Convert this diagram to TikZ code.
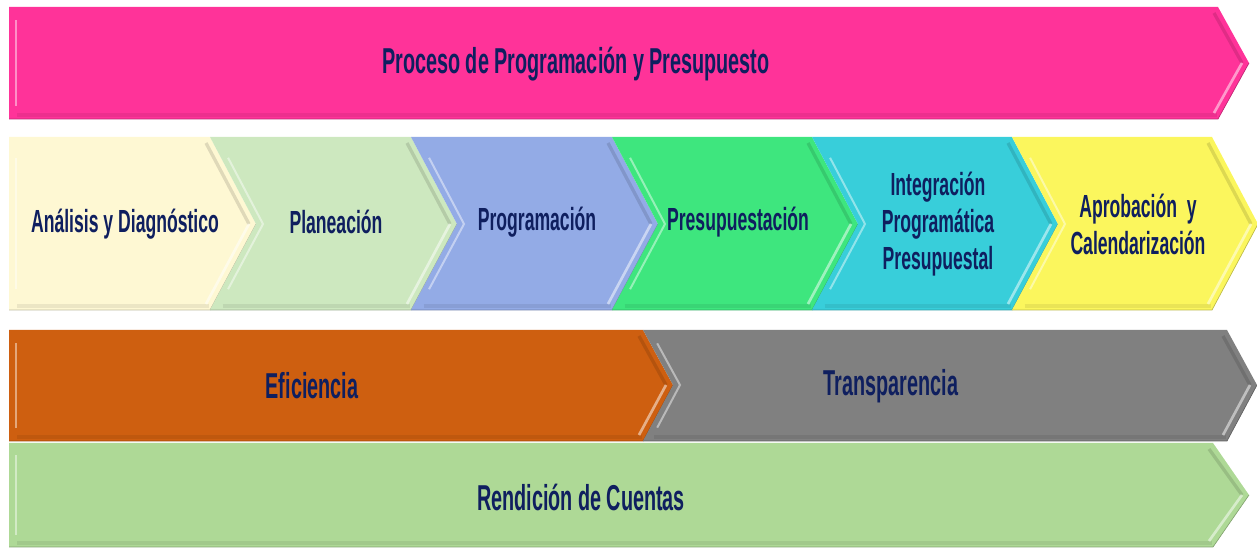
\documentclass[tikz,border=0pt]{standalone}
\usepackage{fontspec}
\setmainfont{Liberation Sans}[FakeStretch=0.55]
\usetikzlibrary{positioning}
\definecolor{titlepink}{HTML}{FF3399}
\definecolor{stepcream}{HTML}{FEF8D3}
\definecolor{steplime}{HTML}{CDE8BF}
\definecolor{stepblue}{HTML}{93ABE6}
\definecolor{stepgreen}{HTML}{3EE67E}
\definecolor{stepcyan}{HTML}{38CEDA}
\definecolor{stepyellow}{HTML}{FBF65D}
\definecolor{effOrange}{HTML}{CE5F10}
\definecolor{transGray}{HTML}{808080}
\definecolor{acctGreen}{HTML}{AED996}
\definecolor{labelnavy}{HTML}{0F1F5F}

% band: colour, x0, x1, top, mid, bottom, tip depth, notch depth
\newcommand{\band}[8]{%
  \fill[#1] (#2,#4) -- (#3,#4) -- ({#3+#7},#5) -- (#3,#6) -- (#2,#6) -- ({#2+#8},#5) -- cycle;
  \draw[#1!75!black, line width=0.5pt] (#2,#6) -- (#3,#6) -- ({#3+#7},#5);
  % bevel
  \draw[black, opacity=0.07, line width=3pt] ({#2+#8*0.1+8},{#6-4}) -- ({#3-1},{#6-4});
  \draw[black, opacity=0.12, line width=2.5pt] ({#3-4},{#4+6}) -- ({#3+#7-7},#5);
  \draw[white, opacity=0.5, line width=2pt] ({#3+#7-7},#5) -- ({#3-4},{#6-6});
  \draw[white, opacity=0.45, line width=1.5pt]
    ({#2+#8*0.24+7},{#4+(#6-#4)*0.12}) -- ({#2+#8+7},#5) -- ({#2+#8*0.24+7},{#6-(#6-#4)*0.12});
}

\begin{document}
\begin{tikzpicture}[x=0.75pt, y=-0.75pt,
    lbl/.style={font=\bfseries\fontsize{24}{27.75}\selectfont, text=labelnavy, align=center, inner sep=0pt},
    biglbl/.style={lbl, font=\bfseries\fontsize{27}{31}\selectfont}
]
\useasboundingbox (0,0) rectangle (1257,548);

% title band
\band{titlepink}{9}{1218}{7}{63}{119}{31}{0}
\node[biglbl] (title) at (576,64) {Proceso de Programación y Presupuesto};

% process steps
\band{stepcream}{9}{210}{137}{224}{310}{46}{0}
\band{steplime}{210}{411}{137}{224}{310}{46}{46}
\band{stepblue}{411}{612}{137}{224}{310}{46}{46}
\band{stepgreen}{612}{812}{137}{224}{310}{46}{46}
\band{stepcyan}{812}{1012}{137}{224}{310}{46}{46}
\band{stepyellow}{1012}{1212}{137}{224}{310}{46}{46}
\node[lbl] (analisis) at (125,224) {Análisis y Diagnóstico};
\node[lbl] (planeacion) at (336,222) {Planeación};
\node[lbl] (programacion) at (537,222) {Programación};
\node[lbl] (presupuestacion) at (738,222) {Presupuestación};
\node[lbl] (integracion) at (938,224) {Integración\\Programática\\Presupuestal};
\node[lbl] (aprobacion) at (1138,224) {Aprobación~ y\\Calendarización};

% values
\band{effOrange}{9}{643}{330}{385}{441}{30}{0}
\band{transGray}{643}{1227}{330}{385}{441}{30}{30}
\node[biglbl] (eficiencia) at (312,386) {Eficiencia};
\node[biglbl] (transparencia) at (891,386) {Transparencia};

% accountability band
\band{acctGreen}{9}{1213}{443}{495}{547}{36}{0}
\node[biglbl] (rendicion) at (581,497) {Rendición de Cuentas};
\end{tikzpicture}
\end{document}
